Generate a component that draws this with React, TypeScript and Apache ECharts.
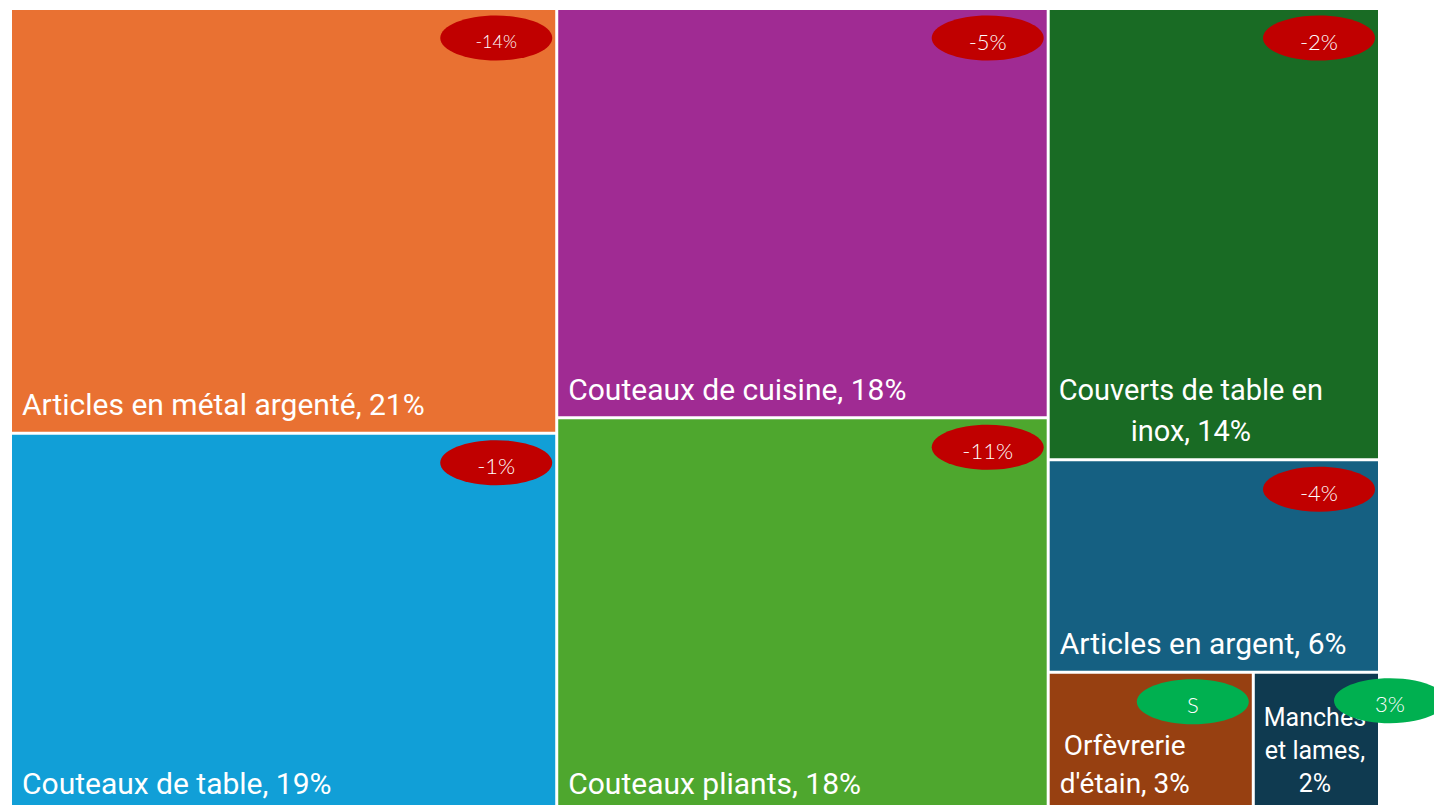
import React, { useEffect, useRef } from 'react';
import * as echarts from 'echarts';

const categories = [
  'Articles en métal argenté',
  'Couteaux de table',
  'Couteaux de cuisine',
  'Couteaux pliants',
  'Couverts de table en inox',
  'Articles en argent',
  "Orfèvrerie d'étain",
  'Manches et lames',
];
// shares (%) estimated from the tile areas; labels show them rounded
const shares = [21.1, 18.8, 18.3, 17.6, 13.6, 6.4, 2.6, 1.6];
const changes = ['-14%', '-1%', '-5%', '-11%', '-2%', '-4%', 'S', '3%'];

const colors: Record<string, string> = {
  'Articles en métal argenté': '#E97132',
  'Couteaux de table': '#119FD7',
  'Couteaux de cuisine': '#A02B93',
  'Couteaux pliants': '#4EA72E',
  'Couverts de table en inox': '#196B24',
  'Articles en argent': '#156082',
  "Orfèvrerie d'étain": '#974011',
  'Manches et lames': '#0F3A50',
};

// where the label wraps (display only)
const wrapped: Record<string, string[]> = {
  'Couverts de table en inox': ['Couverts de table en', 'inox, {v}%'],
  "Orfèvrerie d'étain": ['Orfèvrerie', "d'étain, {v}%"],
  'Manches et lames': ['Manches', 'et lames,', '{v}%'],
};
const labelSize: Record<string, number> = {
  'Manches et lames': 25,
  "Orfèvrerie d'étain": 28,
  'Couverts de table en inox': 29,
};
const labelLH: Record<string, number> = {
  'Couverts de table en inox': 41,
  "Orfèvrerie d'étain": 38,
  'Manches et lames': 33,
};
const labelDx: Record<string, number> = { 'Manches et lames': 9, 'Couverts de table en inox': 9 };
const badgeSize: Record<string, number> = {
  'Articles en métal argenté': 18,
};
const badgeOffset: Record<string, [number, number]> = {
  'Manches et lames': [12, 27],
};

const LABEL_FONT = 'Roboto, "Noto Sans", sans-serif';
const BADGE_FONT = 'Lato, "Open Sans", sans-serif';

export default function App() {
  const ref = useRef<HTMLDivElement>(null);
  useEffect(() => {
    document.body.style.margin = '0';
    const chart = echarts.init(ref.current!, undefined, { renderer: 'svg' });
    const data = categories.map((name, i) => ({
      name,
      value: shares[i],
      itemStyle: { color: colors[name] },
    }));
    chart.setOption({
      animation: false,
      series: [
        {
          type: 'treemap',
          left: 12,
          top: 10,
          width: 1366,
          bottom: -5,
          roam: false,
          nodeClick: false,
          sort: false,
          squareRatio: 1,
          breadcrumb: { show: false },
          levels: [{ itemStyle: { gapWidth: 3, borderWidth: 0, borderColor: '#fff' } }],
          label: { show: false },
          data,
        },
      ],
    });

    try {
      const series = (chart as any).getModel().getSeriesByIndex(0);
      const info = series.layoutInfo;
      const tree = series.getData().tree;
      const root = tree.root;
      const rl = root.getLayout() || { x: 0, y: 0 };
      const labels: any[] = [];
      const badges: any[] = [];
      root.children.forEach((node: any) => {
        const l = node.getLayout();
        const name = node.name;
        const i = categories.indexOf(name);
        if (!l || i < 0) return;
        const cellX = info.x + rl.x + l.x;
        const cellY = info.y + rl.y + l.y;
        const right = cellX + l.width;
        const bottom = cellY + l.height;

        const v = Math.round(shares[i]);
        const lines = wrapped[name] ?? [`${name}, {v}%`];
        const fs = labelSize[name] ?? 30;
        const lh = labelLH[name] ?? 36;
        labels.push({
          type: 'text',
          z: 100,
          x: cellX + (labelDx[name] ?? 10),
          y: bottom - (27 - lh / 2),
          style: {
            text: lines.map((t) => `{c|${t.replace('{v}', String(v))}}`).join('\n'),
            align: 'left',
            verticalAlign: 'bottom',
            rich: {
              c: { align: 'center', fontSize: fs, lineHeight: lh, fill: '#fff', fontFamily: LABEL_FONT },
            },
          },
        });

        const off = badgeOffset[name] ?? [-59, 28];
        const txt = changes[i];
        const positive = txt === 'S' || !txt.startsWith('-');
        const cx = right + off[0];
        const cy = cellY + off[1];
        badges.push({
          type: 'ellipse',
          z: 101,
          shape: { cx, cy, rx: 56, ry: 22.5 },
          style: { fill: positive ? '#00B050' : '#C00000' },
        });
        badges.push({
          type: 'text',
          z: 102,
          x: cx,
          y: cy + 3,
          style: {
            text: txt,
            fill: '#fff',
            fontSize: badgeSize[name] ?? 22,
            fontFamily: BADGE_FONT,
            fontWeight: 300,
            align: 'center',
            verticalAlign: 'middle',
          },
        });
      });
      chart.setOption({ graphic: [...labels, ...badges] });
    } catch (e) {
      // ignore
    }
    return () => chart.dispose();
  }, []);
  return <div ref={ref} style={{ position: 'fixed', left: 0, top: 0, width: 1434, height: 805, background: '#fff' }} />;
}
